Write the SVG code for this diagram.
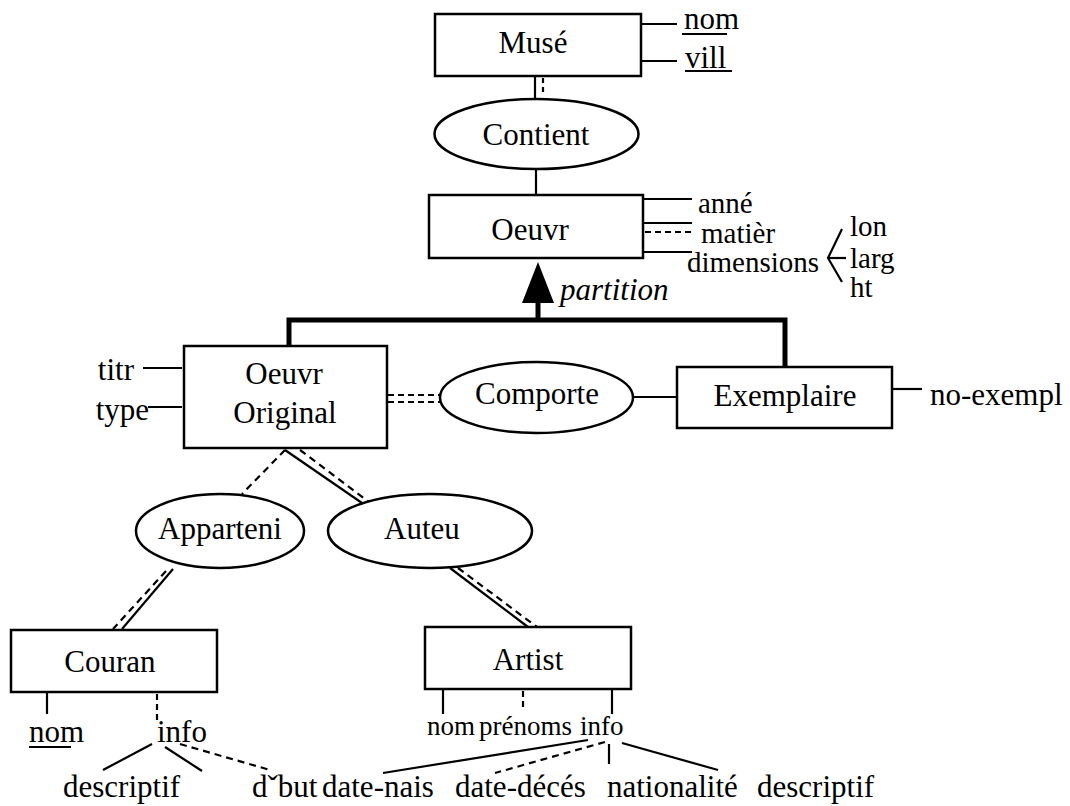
<svg xmlns="http://www.w3.org/2000/svg" width="1070" height="806" viewBox="0 0 1070 806">
<style>
text{font-family:"Liberation Serif","Times New Roman",serif;font-size:31px;fill:#000}
.c{text-anchor:middle}
.e{text-anchor:end}
.sm{font-size:27px}
.at{font-size:29px}
.box{fill:#fff;stroke:#000;stroke-width:2.5}
.ell{fill:#fff;stroke:#000;stroke-width:2.5}
.ln{stroke:#000;stroke-width:2.2;fill:none}
.da{stroke:#000;stroke-width:2.2;fill:none;stroke-dasharray:7 5}
.th{stroke:#000;stroke-width:5;fill:none}
</style>
<rect width="1070" height="806" fill="#fff"/>
<g id="connectors">
<line class="ln" x1="535" y1="76" x2="535" y2="99"/>
<line class="da" x1="543" y1="78" x2="543" y2="95" style="stroke-dasharray:5 4"/>
<line class="ln" x1="536" y1="169" x2="536" y2="195"/>
<line class="ln" x1="641" y1="24" x2="677" y2="24"/>
<line class="ln" x1="641" y1="61" x2="677" y2="61"/>
<line class="ln" x1="643" y1="199" x2="692" y2="199"/>
<line class="ln" x1="643" y1="223" x2="692" y2="223"/>
<line class="da" x1="645" y1="232" x2="692" y2="232" style="stroke-dasharray:6 4"/>
<line class="ln" x1="643" y1="252" x2="692" y2="252"/>
<polyline class="ln" points="842,229 828,258 842,282"/>
<line class="ln" x1="828" y1="258" x2="846" y2="258"/>
<polygon points="538,262 522,303 554,303" fill="#000"/>
<line class="th" x1="538" y1="300" x2="538" y2="322"/>
<polyline class="th" points="289,346 289,320 785,320 785,367"/>
<line class="ln" x1="143" y1="368" x2="182" y2="368"/>
<line class="ln" x1="148" y1="407" x2="182" y2="407"/>
<line class="da" x1="388" y1="395" x2="441" y2="395" style="stroke-dasharray:6 4"/>
<line class="da" x1="388" y1="402" x2="441" y2="402" style="stroke-dasharray:6 4"/>
<line class="ln" x1="633" y1="397" x2="677" y2="397"/>
<line class="ln" x1="892" y1="389" x2="922" y2="389"/>
<line class="da" x1="285" y1="450" x2="242" y2="494"/>
<line class="ln" x1="285" y1="450" x2="362" y2="503"/>
<line class="da" x1="300" y1="450" x2="369" y2="502"/>
<line class="ln" x1="173" y1="569" x2="122" y2="629"/>
<line class="da" x1="166" y1="571" x2="113" y2="629"/>
<line class="ln" x1="450" y1="568" x2="528" y2="627"/>
<line class="da" x1="458" y1="568" x2="537" y2="627"/>
<line class="ln" x1="47" y1="692" x2="47" y2="714"/>
<line class="da" x1="157" y1="694" x2="157" y2="720" style="stroke-dasharray:6 4"/>
<line class="ln" x1="152" y1="744" x2="103" y2="770"/>
<line class="ln" x1="165" y1="747" x2="202" y2="771"/>
<line class="da" x1="180" y1="744" x2="270" y2="770"/>
<line class="ln" x1="443" y1="689" x2="443" y2="714"/>
<line class="da" x1="523" y1="691" x2="523" y2="708" style="stroke-dasharray:6 4"/>
<line class="ln" x1="612" y1="689" x2="612" y2="714"/>
<line class="ln" x1="588" y1="740" x2="383" y2="773"/>
<line class="da" x1="605" y1="742" x2="495" y2="773"/>
<line class="ln" x1="609" y1="744" x2="609" y2="764"/>
<line class="ln" x1="622" y1="743" x2="718" y2="770"/>
</g>
<g id="muse"><rect class="box" x="435" y="14" width="206" height="62"/><text class="c" x="533" y="53">Musé</text></g>
<g id="muse-nom"><text x="684" y="29">nom</text><line class="ln" x1="682" y1="34" x2="727" y2="34"/></g>
<g id="muse-vill"><text x="685" y="68">vill</text><line class="ln" x1="685" y1="71" x2="732" y2="71"/></g>
<g id="contient"><ellipse class="ell" cx="536.5" cy="134" rx="102" ry="35"/><text class="c" x="536" y="145">Contient</text></g>
<g id="oeuvr"><rect class="box" x="429" y="195" width="214" height="63"/><text class="c" x="530" y="240">Oeuvr</text></g>
<g id="oeuvr-attrs">
<text class="at" x="698" y="213">anné</text>
<text class="at" x="701" y="243">matièr</text>
<text class="at" x="687" y="272">dimensions</text>
<text class="at" x="850" y="236">lon</text>
<text class="at" x="850" y="268">larg</text>
<text class="at" x="850" y="297">ht</text>
</g>
<g id="partition"><text x="560" y="300" font-style="italic">partition</text></g>
<g id="oeuvr-original"><rect class="box" x="184" y="346" width="203" height="102"/><text class="c" x="284" y="384">Oeuvr</text><text class="c" x="285" y="423">Original</text></g>
<g id="oo-attrs"><text class="e" x="134" y="380">titr</text><text class="e" x="149" y="420">type</text></g>
<g id="comporte"><ellipse class="ell" cx="536.5" cy="397.5" rx="96.5" ry="35.5"/><text class="c" x="537" y="404">Comporte</text></g>
<g id="exemplaire"><rect class="box" x="677" y="367" width="215" height="61"/><text class="c" x="785" y="406">Exemplaire</text></g>
<g id="no-exempl"><text x="930" y="405">no-exempl</text></g>
<g id="apparteni"><ellipse class="ell" cx="220" cy="531" rx="84" ry="37"/><text class="c" x="220" y="539">Apparteni</text></g>
<g id="auteu"><ellipse class="ell" cx="430" cy="531" rx="102" ry="37"/><text class="c" x="422" y="539">Auteu</text></g>
<g id="couran"><rect class="box" x="11" y="630" width="206" height="62"/><text class="c" x="110" y="672">Couran</text></g>
<g id="couran-attrs">
<text x="29" y="742">nom</text><line class="ln" x1="29" y1="747" x2="71" y2="747"/>
<text x="157" y="742">info</text>
<text x="63" y="797">descriptif</text>
<text x="252" y="797">dˇbut</text>
</g>
<g id="artist"><rect class="box" x="425" y="627" width="206" height="62"/><text class="c" x="528" y="670">Artist</text></g>
<g id="artist-attrs">
<text class="sm" x="427" y="735">nom</text>
<text class="sm" x="479" y="735">prénoms</text>
<text class="sm" x="580" y="735">info</text>
<text x="322" y="797">date-nais</text>
<text x="455" y="797">date-décés</text>
<text x="607" y="797">nationalité</text>
<text x="757" y="797">descriptif</text>
</g>
</svg>
